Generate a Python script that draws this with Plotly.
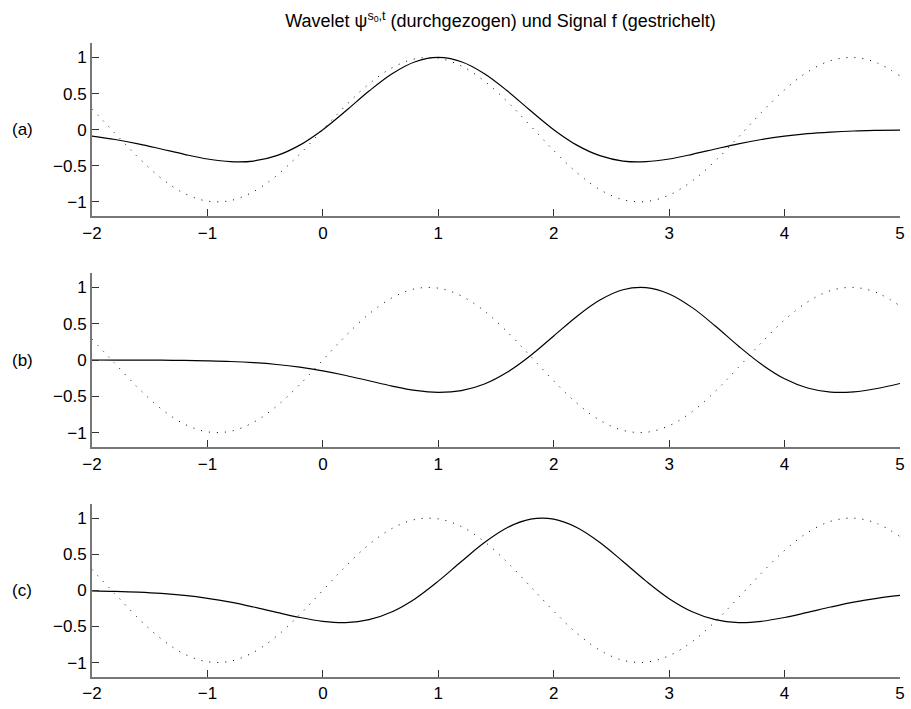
import plotly.graph_objects as go

# ---- data ----
t = [-2.0, -1.8, -1.6, -1.4, -1.2, -1.0, -0.8, -0.6, -0.4, -0.2,
     0.0, 0.2, 0.4, 0.6, 0.8, 1.0, 1.2, 1.4, 1.6, 1.8,
     2.0, 2.2, 2.4, 2.6, 2.8, 3.0, 3.2, 3.4, 3.6, 3.8,
     4.0, 4.2, 4.4, 4.6, 4.8, 5.0]

signal_f = [0.288, -0.051, -0.384, -0.673, -0.882, -0.989, -0.981, -0.857, -0.634, -0.337,
            0.0, 0.337, 0.634, 0.857, 0.981, 0.989, 0.882, 0.673, 0.384, 0.051,
            -0.288, -0.594, -0.830, -0.969, -0.995, -0.905, -0.710, -0.431, -0.102, 0.239,
            0.552, 0.800, 0.956, 0.999, 0.926, 0.745]

wavelet_a = [-0.089, -0.136, -0.196, -0.267, -0.341, -0.406, -0.443, -0.434, -0.360, -0.214,
             0.0, 0.261, 0.535, 0.775, 0.941, 1.0, 0.941, 0.775, 0.535, 0.261,
             0.0, -0.214, -0.360, -0.434, -0.443, -0.406, -0.341, -0.267, -0.196, -0.136,
             -0.089, -0.055, -0.033, -0.018, -0.010, -0.005]

wavelet_b = [0.0, -0.001, -0.001, -0.003, -0.006, -0.012, -0.021, -0.037, -0.062, -0.099,
             -0.150, -0.213, -0.286, -0.359, -0.419, -0.446, -0.422, -0.331, -0.166, 0.062,
             0.330, 0.600, 0.825, 0.967, 0.996, 0.909, 0.721, 0.468, 0.193, -0.059,
             -0.258, -0.385, -0.442, -0.438, -0.392, -0.323]

wavelet_c = [-0.007, -0.014, -0.025, -0.043, -0.071, -0.111, -0.164, -0.231, -0.305, -0.376,
             -0.429, -0.446, -0.406, -0.296, -0.115, 0.127, 0.399, 0.662, 0.870, 0.985,
             0.985, 0.870, 0.662, 0.399, 0.127, -0.115, -0.296, -0.406, -0.446, -0.429,
             -0.376, -0.305, -0.231, -0.164, -0.111, -0.071]

panel_labels = ["(a)", "(b)", "(c)"]
x_ticks = [-2, -1, 0, 1, 2, 3, 4, 5]
x_ticktext = ["\u22122", "\u22121", "0", "1", "2", "3", "4", "5"]
y_ticks = [-1, -0.5, 0, 0.5, 1]
y_ticktext = ["\u22121", "\u22120.5", "0", "0.5", "1"]
title_text = "Wavelet \u03c8<sup>s<sub>0</sub>,t</sup> (durchgezogen) und Signal f (gestrichelt)"

# ---- figure ----
W, H = 911, 709
ml, mr, mt, mb = 92, 6, 43, 26
ph = H - mt - mb
# panel pixel extents (top, bottom) measured from figure top
panels_px = [(43, 218), (275, 451), (508, 683)]

FONT = "Liberation Sans, Arial, Helvetica, sans-serif"
fig = go.Figure()

wavelets = [wavelet_a, wavelet_b, wavelet_c]
for i, w in enumerate(wavelets):
    xa = "x" if i == 0 else f"x{i+1}"
    ya = "y" if i == 0 else f"y{i+1}"
    fig.add_trace(go.Scatter(x=t, y=signal_f, mode="lines", xaxis=xa, yaxis=ya,
                             line=dict(color="#000000", width=1, dash="1px,7px", shape="spline"),
                             showlegend=False, hoverinfo="skip"))
    fig.add_trace(go.Scatter(x=t, y=w, mode="lines", xaxis=xa, yaxis=ya,
                             line=dict(color="#000000", width=1.2, shape="spline"),
                             showlegend=False, hoverinfo="skip"))

axis_common = dict(showline=True, linecolor="#777777", linewidth=2, mirror=False,
                   ticks="inside", ticklen=7, tickwidth=1, tickcolor="#333333",
                   showgrid=False, zeroline=False,
                   tickfont=dict(family=FONT, size=17, color="#000000"))

layout = dict(width=W, height=H, paper_bgcolor="white", plot_bgcolor="white",
              margin=dict(l=ml, r=mr, t=mt, b=mb),
              font=dict(family=FONT, size=17, color="#000000"),
              title=dict(text=title_text, x=(ml + 813 / 2 + 2) / W, xref="container",
                         xanchor="center", y=1 - 21 / H, yref="container", yanchor="middle",
                         font=dict(family=FONT, size=18, color="#000000")),
              annotations=[])

for i in range(3):
    top, bot = panels_px[i]
    d0 = (H - mb - bot) / ph
    d1 = (H - mb - top) / ph
    xk = "xaxis" if i == 0 else f"xaxis{i+1}"
    yk = "yaxis" if i == 0 else f"yaxis{i+1}"
    ya = "y" if i == 0 else f"y{i+1}"
    xa = "x" if i == 0 else f"x{i+1}"
    layout[xk] = dict(axis_common, domain=[0, 1], range=[-2, 5], anchor=ya,
                      tickvals=x_ticks, ticktext=x_ticktext)
    layout[yk] = dict(axis_common, domain=[max(d0, 0), min(d1, 1)], range=[-1.2, 1.2],
                      anchor=xa, tickvals=y_ticks, ticktext=y_ticktext)
    layout["annotations"].append(dict(text=panel_labels[i], xref="paper", yref=ya,
                                      x=-70 / 813, y=0, xanchor="center", yanchor="middle",
                                      showarrow=False,
                                      font=dict(family=FONT, size=17, color="#000000")))

fig.update_layout(**layout)
fig.write_html("out.html")
